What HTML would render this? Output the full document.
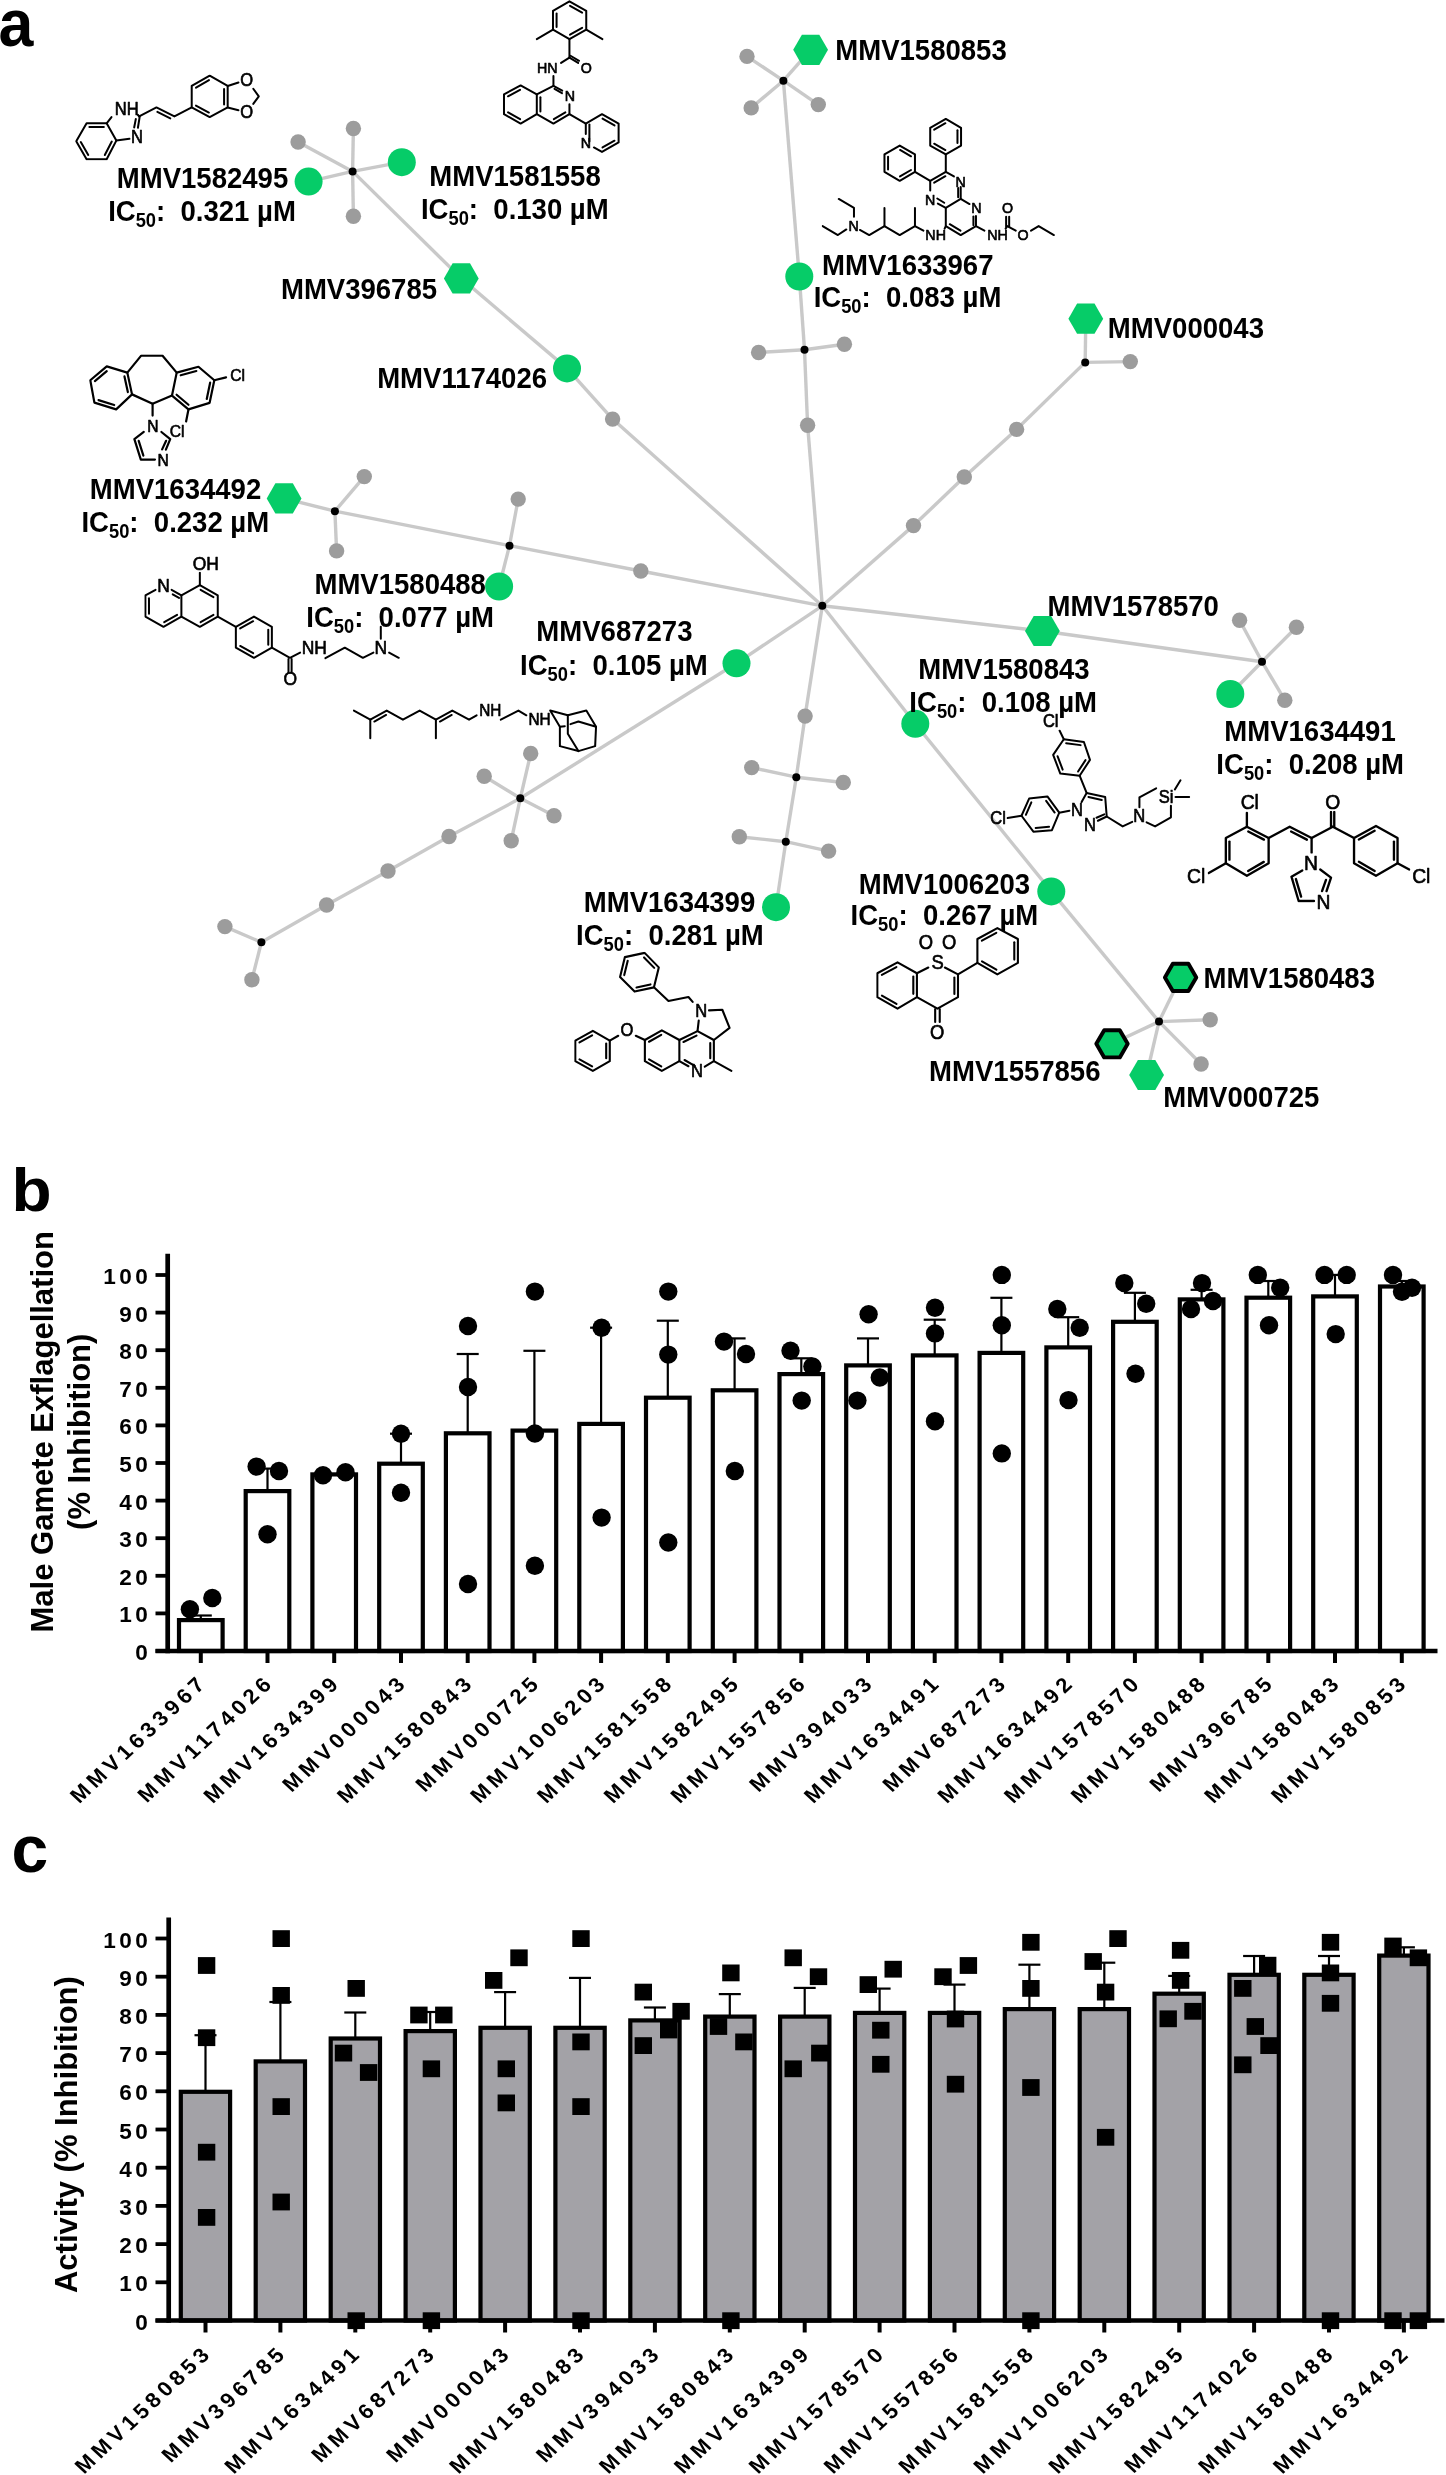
<!DOCTYPE html>
<html><head><meta charset="utf-8"><style>
html,body{margin:0;padding:0;background:#fff;overflow:hidden;width:1446px;height:2475px;}
svg{display:block;}
text{font-family:"Liberation Sans", sans-serif;fill:#000;}
text{filter:grayscale(1);}
.chem text{filter:none;}
.chem{filter:grayscale(1);}
</style></head><body>
<svg width="1446" height="2475" viewBox="0 0 1446 2475">
<rect width="1446" height="2475" fill="#fff"/>
<text transform="translate(-1.5,45.8) scale(0.95,1)" font-size="66" font-weight="bold">a</text>
<text transform="translate(11.5,1210.5) scale(1.06,1)" font-size="62" font-weight="bold">b</text>
<text transform="translate(11.5,1871.8)" font-size="66" font-weight="bold">c</text>
<line x1="200.8" y1="1620.1" x2="200.8" y2="1615.5" stroke="#000" stroke-width="2.2"/>
<line x1="189.8" y1="1615.5" x2="211.8" y2="1615.5" stroke="#000" stroke-width="2.2"/>
<rect x="179.0" y="1620.1" width="43.6" height="30.9" fill="#fff" stroke="#000" stroke-width="4.2"/>
<line x1="267.5" y1="1491.1" x2="267.5" y2="1468.6" stroke="#000" stroke-width="2.2"/>
<line x1="256.5" y1="1468.6" x2="278.5" y2="1468.6" stroke="#000" stroke-width="2.2"/>
<rect x="245.7" y="1491.1" width="43.6" height="159.9" fill="#fff" stroke="#000" stroke-width="4.2"/>
<line x1="334.2" y1="1474.4" x2="334.2" y2="1475.8" stroke="#000" stroke-width="2.2"/>
<line x1="323.2" y1="1475.8" x2="345.2" y2="1475.8" stroke="#000" stroke-width="2.2"/>
<rect x="312.4" y="1474.4" width="43.6" height="176.6" fill="#fff" stroke="#000" stroke-width="4.2"/>
<line x1="401.0" y1="1463.7" x2="401.0" y2="1433.7" stroke="#000" stroke-width="2.2"/>
<line x1="390.0" y1="1433.7" x2="412.0" y2="1433.7" stroke="#000" stroke-width="2.2"/>
<rect x="379.2" y="1463.7" width="43.6" height="187.3" fill="#fff" stroke="#000" stroke-width="4.2"/>
<line x1="467.7" y1="1433.3" x2="467.7" y2="1354.0" stroke="#000" stroke-width="2.2"/>
<line x1="456.7" y1="1354.0" x2="478.7" y2="1354.0" stroke="#000" stroke-width="2.2"/>
<rect x="445.9" y="1433.3" width="43.6" height="217.7" fill="#fff" stroke="#000" stroke-width="4.2"/>
<line x1="534.4" y1="1430.6" x2="534.4" y2="1350.8" stroke="#000" stroke-width="2.2"/>
<line x1="523.4" y1="1350.8" x2="545.4" y2="1350.8" stroke="#000" stroke-width="2.2"/>
<rect x="512.6" y="1430.6" width="43.6" height="220.4" fill="#fff" stroke="#000" stroke-width="4.2"/>
<line x1="601.1" y1="1423.9" x2="601.1" y2="1327.7" stroke="#000" stroke-width="2.2"/>
<line x1="590.1" y1="1327.7" x2="612.1" y2="1327.7" stroke="#000" stroke-width="2.2"/>
<rect x="579.3" y="1423.9" width="43.6" height="227.1" fill="#fff" stroke="#000" stroke-width="4.2"/>
<line x1="667.8" y1="1397.7" x2="667.8" y2="1320.7" stroke="#000" stroke-width="2.2"/>
<line x1="656.8" y1="1320.7" x2="678.8" y2="1320.7" stroke="#000" stroke-width="2.2"/>
<rect x="646.0" y="1397.7" width="43.6" height="253.3" fill="#fff" stroke="#000" stroke-width="4.2"/>
<line x1="734.6" y1="1390.3" x2="734.6" y2="1338.4" stroke="#000" stroke-width="2.2"/>
<line x1="723.6" y1="1338.4" x2="745.6" y2="1338.4" stroke="#000" stroke-width="2.2"/>
<rect x="712.8" y="1390.3" width="43.6" height="260.7" fill="#fff" stroke="#000" stroke-width="4.2"/>
<line x1="801.3" y1="1374.1" x2="801.3" y2="1358.3" stroke="#000" stroke-width="2.2"/>
<line x1="790.3" y1="1358.3" x2="812.3" y2="1358.3" stroke="#000" stroke-width="2.2"/>
<rect x="779.5" y="1374.1" width="43.6" height="276.9" fill="#fff" stroke="#000" stroke-width="4.2"/>
<line x1="868.0" y1="1365.4" x2="868.0" y2="1338.4" stroke="#000" stroke-width="2.2"/>
<line x1="857.0" y1="1338.4" x2="879.0" y2="1338.4" stroke="#000" stroke-width="2.2"/>
<rect x="846.2" y="1365.4" width="43.6" height="285.6" fill="#fff" stroke="#000" stroke-width="4.2"/>
<line x1="934.7" y1="1355.4" x2="934.7" y2="1319.7" stroke="#000" stroke-width="2.2"/>
<line x1="923.7" y1="1319.7" x2="945.7" y2="1319.7" stroke="#000" stroke-width="2.2"/>
<rect x="912.9" y="1355.4" width="43.6" height="295.6" fill="#fff" stroke="#000" stroke-width="4.2"/>
<line x1="1001.4" y1="1352.9" x2="1001.4" y2="1297.8" stroke="#000" stroke-width="2.2"/>
<line x1="990.4" y1="1297.8" x2="1012.4" y2="1297.8" stroke="#000" stroke-width="2.2"/>
<rect x="979.6" y="1352.9" width="43.6" height="298.1" fill="#fff" stroke="#000" stroke-width="4.2"/>
<line x1="1068.2" y1="1347.4" x2="1068.2" y2="1317.2" stroke="#000" stroke-width="2.2"/>
<line x1="1057.2" y1="1317.2" x2="1079.2" y2="1317.2" stroke="#000" stroke-width="2.2"/>
<rect x="1046.4" y="1347.4" width="43.6" height="303.6" fill="#fff" stroke="#000" stroke-width="4.2"/>
<line x1="1134.9" y1="1321.8" x2="1134.9" y2="1292.8" stroke="#000" stroke-width="2.2"/>
<line x1="1123.9" y1="1292.8" x2="1145.9" y2="1292.8" stroke="#000" stroke-width="2.2"/>
<rect x="1113.1" y="1321.8" width="43.6" height="329.2" fill="#fff" stroke="#000" stroke-width="4.2"/>
<line x1="1201.6" y1="1299.4" x2="1201.6" y2="1289.8" stroke="#000" stroke-width="2.2"/>
<line x1="1190.6" y1="1289.8" x2="1212.6" y2="1289.8" stroke="#000" stroke-width="2.2"/>
<rect x="1179.8" y="1299.4" width="43.6" height="351.6" fill="#fff" stroke="#000" stroke-width="4.2"/>
<line x1="1268.3" y1="1297.7" x2="1268.3" y2="1281.0" stroke="#000" stroke-width="2.2"/>
<line x1="1257.3" y1="1281.0" x2="1279.3" y2="1281.0" stroke="#000" stroke-width="2.2"/>
<rect x="1246.5" y="1297.7" width="43.6" height="353.3" fill="#fff" stroke="#000" stroke-width="4.2"/>
<line x1="1335.0" y1="1296.4" x2="1335.0" y2="1274.9" stroke="#000" stroke-width="2.2"/>
<line x1="1324.0" y1="1274.9" x2="1346.0" y2="1274.9" stroke="#000" stroke-width="2.2"/>
<rect x="1313.2" y="1296.4" width="43.6" height="354.6" fill="#fff" stroke="#000" stroke-width="4.2"/>
<line x1="1401.8" y1="1286.5" x2="1401.8" y2="1281.0" stroke="#000" stroke-width="2.2"/>
<line x1="1390.8" y1="1281.0" x2="1412.8" y2="1281.0" stroke="#000" stroke-width="2.2"/>
<rect x="1380.0" y="1286.5" width="43.6" height="364.5" fill="#fff" stroke="#000" stroke-width="4.2"/>
<circle cx="189.9" cy="1609.3" r="9.2" fill="#000"/>
<circle cx="212.3" cy="1598.0" r="9.2" fill="#000"/>
<circle cx="256.6" cy="1466.6" r="9.2" fill="#000"/>
<circle cx="279.0" cy="1471.0" r="9.2" fill="#000"/>
<circle cx="267.5" cy="1534.3" r="9.2" fill="#000"/>
<circle cx="323.0" cy="1475.3" r="9.2" fill="#000"/>
<circle cx="345.5" cy="1472.3" r="9.2" fill="#000"/>
<circle cx="401.0" cy="1433.7" r="9.2" fill="#000"/>
<circle cx="401.0" cy="1492.7" r="9.2" fill="#000"/>
<circle cx="468.0" cy="1326.0" r="9.2" fill="#000"/>
<circle cx="468.0" cy="1387.0" r="9.2" fill="#000"/>
<circle cx="468.0" cy="1584.0" r="9.2" fill="#000"/>
<circle cx="534.9" cy="1291.6" r="9.2" fill="#000"/>
<circle cx="534.9" cy="1433.5" r="9.2" fill="#000"/>
<circle cx="534.9" cy="1565.7" r="9.2" fill="#000"/>
<circle cx="601.6" cy="1327.7" r="9.2" fill="#000"/>
<circle cx="601.6" cy="1517.6" r="9.2" fill="#000"/>
<circle cx="668.3" cy="1291.6" r="9.2" fill="#000"/>
<circle cx="668.3" cy="1354.6" r="9.2" fill="#000"/>
<circle cx="668.3" cy="1542.5" r="9.2" fill="#000"/>
<circle cx="724.0" cy="1341.6" r="9.2" fill="#000"/>
<circle cx="746.0" cy="1354.0" r="9.2" fill="#000"/>
<circle cx="734.8" cy="1471.0" r="9.2" fill="#000"/>
<circle cx="790.5" cy="1350.8" r="9.2" fill="#000"/>
<circle cx="812.4" cy="1366.5" r="9.2" fill="#000"/>
<circle cx="801.7" cy="1400.6" r="9.2" fill="#000"/>
<circle cx="868.6" cy="1314.2" r="9.2" fill="#000"/>
<circle cx="879.8" cy="1377.5" r="9.2" fill="#000"/>
<circle cx="857.4" cy="1400.6" r="9.2" fill="#000"/>
<circle cx="935.0" cy="1307.8" r="9.2" fill="#000"/>
<circle cx="935.0" cy="1333.4" r="9.2" fill="#000"/>
<circle cx="935.0" cy="1421.3" r="9.2" fill="#000"/>
<circle cx="1001.8" cy="1274.9" r="9.2" fill="#000"/>
<circle cx="1001.8" cy="1325.2" r="9.2" fill="#000"/>
<circle cx="1001.8" cy="1453.4" r="9.2" fill="#000"/>
<circle cx="1057.3" cy="1309.0" r="9.2" fill="#000"/>
<circle cx="1079.7" cy="1327.7" r="9.2" fill="#000"/>
<circle cx="1068.5" cy="1400.1" r="9.2" fill="#000"/>
<circle cx="1124.3" cy="1283.1" r="9.2" fill="#000"/>
<circle cx="1146.2" cy="1303.8" r="9.2" fill="#000"/>
<circle cx="1135.5" cy="1373.7" r="9.2" fill="#000"/>
<circle cx="1202.0" cy="1283.1" r="9.2" fill="#000"/>
<circle cx="1191.0" cy="1309.0" r="9.2" fill="#000"/>
<circle cx="1213.0" cy="1301.0" r="9.2" fill="#000"/>
<circle cx="1257.8" cy="1274.9" r="9.2" fill="#000"/>
<circle cx="1280.2" cy="1287.8" r="9.2" fill="#000"/>
<circle cx="1269.0" cy="1325.2" r="9.2" fill="#000"/>
<circle cx="1324.5" cy="1274.9" r="9.2" fill="#000"/>
<circle cx="1346.7" cy="1274.9" r="9.2" fill="#000"/>
<circle cx="1335.7" cy="1334.1" r="9.2" fill="#000"/>
<circle cx="1393.0" cy="1274.9" r="9.2" fill="#000"/>
<circle cx="1412.0" cy="1287.8" r="9.2" fill="#000"/>
<circle cx="1402.0" cy="1291.8" r="9.2" fill="#000"/>
<line x1="167.7" y1="1253.7" x2="167.7" y2="1653.3" stroke="#000" stroke-width="4.7"/>
<line x1="155.5" y1="1651.0" x2="1437.5" y2="1651.0" stroke="#000" stroke-width="4.5"/>
<line x1="155.5" y1="1651.0" x2="167.7" y2="1651.0" stroke="#000" stroke-width="3.8"/>
<text transform="translate(151.3,1660.0) scale(1.05,1)" font-size="21.5" font-weight="bold" letter-spacing="3.3" text-anchor="end">0</text>
<line x1="155.5" y1="1613.4" x2="167.7" y2="1613.4" stroke="#000" stroke-width="3.8"/>
<text transform="translate(151.3,1622.4) scale(1.05,1)" font-size="21.5" font-weight="bold" letter-spacing="3.3" text-anchor="end">10</text>
<line x1="155.5" y1="1575.8" x2="167.7" y2="1575.8" stroke="#000" stroke-width="3.8"/>
<text transform="translate(151.3,1584.8) scale(1.05,1)" font-size="21.5" font-weight="bold" letter-spacing="3.3" text-anchor="end">20</text>
<line x1="155.5" y1="1538.2" x2="167.7" y2="1538.2" stroke="#000" stroke-width="3.8"/>
<text transform="translate(151.3,1547.2) scale(1.05,1)" font-size="21.5" font-weight="bold" letter-spacing="3.3" text-anchor="end">30</text>
<line x1="155.5" y1="1500.6" x2="167.7" y2="1500.6" stroke="#000" stroke-width="3.8"/>
<text transform="translate(151.3,1509.6) scale(1.05,1)" font-size="21.5" font-weight="bold" letter-spacing="3.3" text-anchor="end">40</text>
<line x1="155.5" y1="1463.0" x2="167.7" y2="1463.0" stroke="#000" stroke-width="3.8"/>
<text transform="translate(151.3,1472.0) scale(1.05,1)" font-size="21.5" font-weight="bold" letter-spacing="3.3" text-anchor="end">50</text>
<line x1="155.5" y1="1425.4" x2="167.7" y2="1425.4" stroke="#000" stroke-width="3.8"/>
<text transform="translate(151.3,1434.4) scale(1.05,1)" font-size="21.5" font-weight="bold" letter-spacing="3.3" text-anchor="end">60</text>
<line x1="155.5" y1="1387.8" x2="167.7" y2="1387.8" stroke="#000" stroke-width="3.8"/>
<text transform="translate(151.3,1396.8) scale(1.05,1)" font-size="21.5" font-weight="bold" letter-spacing="3.3" text-anchor="end">70</text>
<line x1="155.5" y1="1350.2" x2="167.7" y2="1350.2" stroke="#000" stroke-width="3.8"/>
<text transform="translate(151.3,1359.2) scale(1.05,1)" font-size="21.5" font-weight="bold" letter-spacing="3.3" text-anchor="end">80</text>
<line x1="155.5" y1="1312.6" x2="167.7" y2="1312.6" stroke="#000" stroke-width="3.8"/>
<text transform="translate(151.3,1321.6) scale(1.05,1)" font-size="21.5" font-weight="bold" letter-spacing="3.3" text-anchor="end">90</text>
<line x1="155.5" y1="1275.0" x2="167.7" y2="1275.0" stroke="#000" stroke-width="3.8"/>
<text transform="translate(151.3,1284.0) scale(1.05,1)" font-size="21.5" font-weight="bold" letter-spacing="3.3" text-anchor="end">100</text>
<line x1="200.8" y1="1651.0" x2="200.8" y2="1663.0" stroke="#000" stroke-width="4"/>
<line x1="267.5" y1="1651.0" x2="267.5" y2="1663.0" stroke="#000" stroke-width="4"/>
<line x1="334.2" y1="1651.0" x2="334.2" y2="1663.0" stroke="#000" stroke-width="4"/>
<line x1="401.0" y1="1651.0" x2="401.0" y2="1663.0" stroke="#000" stroke-width="4"/>
<line x1="467.7" y1="1651.0" x2="467.7" y2="1663.0" stroke="#000" stroke-width="4"/>
<line x1="534.4" y1="1651.0" x2="534.4" y2="1663.0" stroke="#000" stroke-width="4"/>
<line x1="601.1" y1="1651.0" x2="601.1" y2="1663.0" stroke="#000" stroke-width="4"/>
<line x1="667.8" y1="1651.0" x2="667.8" y2="1663.0" stroke="#000" stroke-width="4"/>
<line x1="734.6" y1="1651.0" x2="734.6" y2="1663.0" stroke="#000" stroke-width="4"/>
<line x1="801.3" y1="1651.0" x2="801.3" y2="1663.0" stroke="#000" stroke-width="4"/>
<line x1="868.0" y1="1651.0" x2="868.0" y2="1663.0" stroke="#000" stroke-width="4"/>
<line x1="934.7" y1="1651.0" x2="934.7" y2="1663.0" stroke="#000" stroke-width="4"/>
<line x1="1001.4" y1="1651.0" x2="1001.4" y2="1663.0" stroke="#000" stroke-width="4"/>
<line x1="1068.2" y1="1651.0" x2="1068.2" y2="1663.0" stroke="#000" stroke-width="4"/>
<line x1="1134.9" y1="1651.0" x2="1134.9" y2="1663.0" stroke="#000" stroke-width="4"/>
<line x1="1201.6" y1="1651.0" x2="1201.6" y2="1663.0" stroke="#000" stroke-width="4"/>
<line x1="1268.3" y1="1651.0" x2="1268.3" y2="1663.0" stroke="#000" stroke-width="4"/>
<line x1="1335.0" y1="1651.0" x2="1335.0" y2="1663.0" stroke="#000" stroke-width="4"/>
<line x1="1401.8" y1="1651.0" x2="1401.8" y2="1663.0" stroke="#000" stroke-width="4"/>
<text transform="translate(209.0,1683.0) scale(1.07,1) rotate(-45)" font-size="20.8" font-weight="bold" letter-spacing="4.2" text-anchor="end">MMV1633967</text>
<text transform="translate(275.7,1683.0) scale(1.07,1) rotate(-45)" font-size="20.8" font-weight="bold" letter-spacing="4.2" text-anchor="end">MMV1174026</text>
<text transform="translate(342.4,1683.0) scale(1.07,1) rotate(-45)" font-size="20.8" font-weight="bold" letter-spacing="4.2" text-anchor="end">MMV1634399</text>
<text transform="translate(409.2,1683.0) scale(1.07,1) rotate(-45)" font-size="20.8" font-weight="bold" letter-spacing="4.2" text-anchor="end">MMV000043</text>
<text transform="translate(475.9,1683.0) scale(1.07,1) rotate(-45)" font-size="20.8" font-weight="bold" letter-spacing="4.2" text-anchor="end">MMV1580843</text>
<text transform="translate(542.6,1683.0) scale(1.07,1) rotate(-45)" font-size="20.8" font-weight="bold" letter-spacing="4.2" text-anchor="end">MMV000725</text>
<text transform="translate(609.3,1683.0) scale(1.07,1) rotate(-45)" font-size="20.8" font-weight="bold" letter-spacing="4.2" text-anchor="end">MMV1006203</text>
<text transform="translate(676.0,1683.0) scale(1.07,1) rotate(-45)" font-size="20.8" font-weight="bold" letter-spacing="4.2" text-anchor="end">MMV1581558</text>
<text transform="translate(742.8,1683.0) scale(1.07,1) rotate(-45)" font-size="20.8" font-weight="bold" letter-spacing="4.2" text-anchor="end">MMV1582495</text>
<text transform="translate(809.5,1683.0) scale(1.07,1) rotate(-45)" font-size="20.8" font-weight="bold" letter-spacing="4.2" text-anchor="end">MMV1557856</text>
<text transform="translate(876.2,1683.0) scale(1.07,1) rotate(-45)" font-size="20.8" font-weight="bold" letter-spacing="4.2" text-anchor="end">MMV394033</text>
<text transform="translate(942.9,1683.0) scale(1.07,1) rotate(-45)" font-size="20.8" font-weight="bold" letter-spacing="4.2" text-anchor="end">MMV1634491</text>
<text transform="translate(1009.6,1683.0) scale(1.07,1) rotate(-45)" font-size="20.8" font-weight="bold" letter-spacing="4.2" text-anchor="end">MMV687273</text>
<text transform="translate(1076.4,1683.0) scale(1.07,1) rotate(-45)" font-size="20.8" font-weight="bold" letter-spacing="4.2" text-anchor="end">MMV1634492</text>
<text transform="translate(1143.1,1683.0) scale(1.07,1) rotate(-45)" font-size="20.8" font-weight="bold" letter-spacing="4.2" text-anchor="end">MMV1578570</text>
<text transform="translate(1209.8,1683.0) scale(1.07,1) rotate(-45)" font-size="20.8" font-weight="bold" letter-spacing="4.2" text-anchor="end">MMV1580488</text>
<text transform="translate(1276.5,1683.0) scale(1.07,1) rotate(-45)" font-size="20.8" font-weight="bold" letter-spacing="4.2" text-anchor="end">MMV396785</text>
<text transform="translate(1343.2,1683.0) scale(1.07,1) rotate(-45)" font-size="20.8" font-weight="bold" letter-spacing="4.2" text-anchor="end">MMV1580483</text>
<text transform="translate(1410.0,1683.0) scale(1.07,1) rotate(-45)" font-size="20.8" font-weight="bold" letter-spacing="4.2" text-anchor="end">MMV1580853</text>
<text transform="translate(53.0,1431.8) rotate(-90)" font-size="31" font-weight="bold" text-anchor="middle">Male Gamete Exflagellation</text>
<text transform="translate(90.0,1431.8) rotate(-90)" font-size="31" font-weight="bold" text-anchor="middle">(% Inhibition)</text>
<line x1="205.5" y1="2091.8" x2="205.5" y2="2035.2" stroke="#000" stroke-width="2.2"/>
<line x1="194.5" y1="2035.2" x2="216.5" y2="2035.2" stroke="#000" stroke-width="2.2"/>
<rect x="180.8" y="2091.8" width="49.3" height="228.7" fill="#a3a2a7" stroke="#000" stroke-width="4.2"/>
<line x1="280.4" y1="2061.4" x2="280.4" y2="2002.0" stroke="#000" stroke-width="2.2"/>
<line x1="269.4" y1="2002.0" x2="291.4" y2="2002.0" stroke="#000" stroke-width="2.2"/>
<rect x="255.7" y="2061.4" width="49.3" height="259.1" fill="#a3a2a7" stroke="#000" stroke-width="4.2"/>
<line x1="355.3" y1="2038.5" x2="355.3" y2="2012.5" stroke="#000" stroke-width="2.2"/>
<line x1="344.3" y1="2012.5" x2="366.3" y2="2012.5" stroke="#000" stroke-width="2.2"/>
<rect x="330.7" y="2038.5" width="49.3" height="282.0" fill="#a3a2a7" stroke="#000" stroke-width="4.2"/>
<line x1="430.2" y1="2031.1" x2="430.2" y2="2012.0" stroke="#000" stroke-width="2.2"/>
<line x1="419.2" y1="2012.0" x2="441.2" y2="2012.0" stroke="#000" stroke-width="2.2"/>
<rect x="405.6" y="2031.1" width="49.3" height="289.4" fill="#a3a2a7" stroke="#000" stroke-width="4.2"/>
<line x1="505.1" y1="2027.8" x2="505.1" y2="1992.1" stroke="#000" stroke-width="2.2"/>
<line x1="494.1" y1="1992.1" x2="516.1" y2="1992.1" stroke="#000" stroke-width="2.2"/>
<rect x="480.5" y="2027.8" width="49.3" height="292.7" fill="#a3a2a7" stroke="#000" stroke-width="4.2"/>
<line x1="580.0" y1="2027.8" x2="580.0" y2="1977.9" stroke="#000" stroke-width="2.2"/>
<line x1="569.0" y1="1977.9" x2="591.0" y2="1977.9" stroke="#000" stroke-width="2.2"/>
<rect x="555.4" y="2027.8" width="49.3" height="292.7" fill="#a3a2a7" stroke="#000" stroke-width="4.2"/>
<line x1="654.9" y1="2020.4" x2="654.9" y2="2007.5" stroke="#000" stroke-width="2.2"/>
<line x1="643.9" y1="2007.5" x2="665.9" y2="2007.5" stroke="#000" stroke-width="2.2"/>
<rect x="630.3" y="2020.4" width="49.3" height="300.1" fill="#a3a2a7" stroke="#000" stroke-width="4.2"/>
<line x1="729.8" y1="2016.6" x2="729.8" y2="1994.1" stroke="#000" stroke-width="2.2"/>
<line x1="718.8" y1="1994.1" x2="740.8" y2="1994.1" stroke="#000" stroke-width="2.2"/>
<rect x="705.2" y="2016.6" width="49.3" height="303.9" fill="#a3a2a7" stroke="#000" stroke-width="4.2"/>
<line x1="804.7" y1="2016.6" x2="804.7" y2="1987.9" stroke="#000" stroke-width="2.2"/>
<line x1="793.7" y1="1987.9" x2="815.7" y2="1987.9" stroke="#000" stroke-width="2.2"/>
<rect x="780.1" y="2016.6" width="49.3" height="303.9" fill="#a3a2a7" stroke="#000" stroke-width="4.2"/>
<line x1="879.6" y1="2012.9" x2="879.6" y2="1988.6" stroke="#000" stroke-width="2.2"/>
<line x1="868.6" y1="1988.6" x2="890.6" y2="1988.6" stroke="#000" stroke-width="2.2"/>
<rect x="855.0" y="2012.9" width="49.3" height="307.6" fill="#a3a2a7" stroke="#000" stroke-width="4.2"/>
<line x1="954.5" y1="2012.9" x2="954.5" y2="1984.6" stroke="#000" stroke-width="2.2"/>
<line x1="943.5" y1="1984.6" x2="965.5" y2="1984.6" stroke="#000" stroke-width="2.2"/>
<rect x="929.9" y="2012.9" width="49.3" height="307.6" fill="#a3a2a7" stroke="#000" stroke-width="4.2"/>
<line x1="1029.4" y1="2009.1" x2="1029.4" y2="1964.7" stroke="#000" stroke-width="2.2"/>
<line x1="1018.4" y1="1964.7" x2="1040.4" y2="1964.7" stroke="#000" stroke-width="2.2"/>
<rect x="1004.8" y="2009.1" width="49.3" height="311.4" fill="#a3a2a7" stroke="#000" stroke-width="4.2"/>
<line x1="1104.3" y1="2009.1" x2="1104.3" y2="1962.7" stroke="#000" stroke-width="2.2"/>
<line x1="1093.3" y1="1962.7" x2="1115.3" y2="1962.7" stroke="#000" stroke-width="2.2"/>
<rect x="1079.7" y="2009.1" width="49.3" height="311.4" fill="#a3a2a7" stroke="#000" stroke-width="4.2"/>
<line x1="1179.2" y1="1993.7" x2="1179.2" y2="1975.9" stroke="#000" stroke-width="2.2"/>
<line x1="1168.2" y1="1975.9" x2="1190.2" y2="1975.9" stroke="#000" stroke-width="2.2"/>
<rect x="1154.5" y="1993.7" width="49.3" height="326.8" fill="#a3a2a7" stroke="#000" stroke-width="4.2"/>
<line x1="1254.1" y1="1974.8" x2="1254.1" y2="1956.0" stroke="#000" stroke-width="2.2"/>
<line x1="1243.1" y1="1956.0" x2="1265.1" y2="1956.0" stroke="#000" stroke-width="2.2"/>
<rect x="1229.5" y="1974.8" width="49.3" height="345.7" fill="#a3a2a7" stroke="#000" stroke-width="4.2"/>
<line x1="1329.0" y1="1974.8" x2="1329.0" y2="1956.0" stroke="#000" stroke-width="2.2"/>
<line x1="1318.0" y1="1956.0" x2="1340.0" y2="1956.0" stroke="#000" stroke-width="2.2"/>
<rect x="1304.3" y="1974.8" width="49.3" height="345.7" fill="#a3a2a7" stroke="#000" stroke-width="4.2"/>
<line x1="1403.9" y1="1955.6" x2="1403.9" y2="1947.3" stroke="#000" stroke-width="2.2"/>
<line x1="1392.9" y1="1947.3" x2="1414.9" y2="1947.3" stroke="#000" stroke-width="2.2"/>
<rect x="1379.2" y="1955.6" width="49.3" height="364.9" fill="#a3a2a7" stroke="#000" stroke-width="4.2"/>
<rect x="197.9" y="1957.1" width="17.4" height="16.8" fill="#000"/>
<rect x="197.9" y="2029.3" width="17.4" height="16.8" fill="#000"/>
<rect x="197.9" y="2143.8" width="17.4" height="16.8" fill="#000"/>
<rect x="197.9" y="2209.0" width="17.4" height="16.8" fill="#000"/>
<rect x="272.5" y="1930.2" width="17.4" height="16.8" fill="#000"/>
<rect x="272.5" y="1987.0" width="17.4" height="16.8" fill="#000"/>
<rect x="272.5" y="2098.2" width="17.4" height="16.8" fill="#000"/>
<rect x="272.5" y="2193.6" width="17.4" height="16.8" fill="#000"/>
<rect x="347.5" y="1980.0" width="17.4" height="16.8" fill="#000"/>
<rect x="334.8" y="2044.7" width="17.4" height="16.8" fill="#000"/>
<rect x="359.9" y="2064.1" width="17.4" height="16.8" fill="#000"/>
<rect x="347.5" y="2312.3" width="17.4" height="16.8" fill="#000"/>
<rect x="410.2" y="2006.6" width="17.4" height="16.8" fill="#000"/>
<rect x="435.1" y="2006.6" width="17.4" height="16.8" fill="#000"/>
<rect x="422.7" y="2060.4" width="17.4" height="16.8" fill="#000"/>
<rect x="422.7" y="2312.3" width="17.4" height="16.8" fill="#000"/>
<rect x="485.0" y="1972.0" width="17.4" height="16.8" fill="#000"/>
<rect x="510.3" y="1949.4" width="17.4" height="16.8" fill="#000"/>
<rect x="497.6" y="2060.4" width="17.4" height="16.8" fill="#000"/>
<rect x="497.6" y="2094.5" width="17.4" height="16.8" fill="#000"/>
<rect x="572.3" y="1930.2" width="17.4" height="16.8" fill="#000"/>
<rect x="572.3" y="2033.5" width="17.4" height="16.8" fill="#000"/>
<rect x="572.3" y="2098.2" width="17.4" height="16.8" fill="#000"/>
<rect x="572.3" y="2312.3" width="17.4" height="16.8" fill="#000"/>
<rect x="634.6" y="1983.7" width="17.4" height="16.8" fill="#000"/>
<rect x="672.4" y="2002.9" width="17.4" height="16.8" fill="#000"/>
<rect x="660.0" y="2021.6" width="17.4" height="16.8" fill="#000"/>
<rect x="634.6" y="2037.2" width="17.4" height="16.8" fill="#000"/>
<rect x="722.2" y="1964.5" width="17.4" height="16.8" fill="#000"/>
<rect x="709.8" y="2018.1" width="17.4" height="16.8" fill="#000"/>
<rect x="735.2" y="2033.5" width="17.4" height="16.8" fill="#000"/>
<rect x="722.2" y="2312.3" width="17.4" height="16.8" fill="#000"/>
<rect x="784.5" y="1949.4" width="17.4" height="16.8" fill="#000"/>
<rect x="809.8" y="1968.3" width="17.4" height="16.8" fill="#000"/>
<rect x="811.1" y="2044.7" width="17.4" height="16.8" fill="#000"/>
<rect x="784.5" y="2060.4" width="17.4" height="16.8" fill="#000"/>
<rect x="859.6" y="1976.2" width="17.4" height="16.8" fill="#000"/>
<rect x="884.5" y="1960.8" width="17.4" height="16.8" fill="#000"/>
<rect x="872.1" y="2021.8" width="17.4" height="16.8" fill="#000"/>
<rect x="872.1" y="2055.9" width="17.4" height="16.8" fill="#000"/>
<rect x="934.3" y="1968.3" width="17.4" height="16.8" fill="#000"/>
<rect x="959.7" y="1957.1" width="17.4" height="16.8" fill="#000"/>
<rect x="946.8" y="2010.6" width="17.4" height="16.8" fill="#000"/>
<rect x="946.8" y="2075.8" width="17.4" height="16.8" fill="#000"/>
<rect x="1022.2" y="1933.9" width="17.4" height="16.8" fill="#000"/>
<rect x="1022.2" y="1980.0" width="17.4" height="16.8" fill="#000"/>
<rect x="1022.2" y="2079.1" width="17.4" height="16.8" fill="#000"/>
<rect x="1022.2" y="2312.3" width="17.4" height="16.8" fill="#000"/>
<rect x="1109.3" y="1930.2" width="17.4" height="16.8" fill="#000"/>
<rect x="1084.5" y="1953.1" width="17.4" height="16.8" fill="#000"/>
<rect x="1096.9" y="1983.7" width="17.4" height="16.8" fill="#000"/>
<rect x="1096.9" y="2128.9" width="17.4" height="16.8" fill="#000"/>
<rect x="1171.9" y="1941.9" width="17.4" height="16.8" fill="#000"/>
<rect x="1171.9" y="1972.0" width="17.4" height="16.8" fill="#000"/>
<rect x="1159.5" y="2010.4" width="17.4" height="16.8" fill="#000"/>
<rect x="1184.3" y="2002.9" width="17.4" height="16.8" fill="#000"/>
<rect x="1259.0" y="1956.8" width="17.4" height="16.8" fill="#000"/>
<rect x="1234.1" y="1980.0" width="17.4" height="16.8" fill="#000"/>
<rect x="1246.6" y="2018.1" width="17.4" height="16.8" fill="#000"/>
<rect x="1260.3" y="2037.2" width="17.4" height="16.8" fill="#000"/>
<rect x="1234.1" y="2056.4" width="17.4" height="16.8" fill="#000"/>
<rect x="1321.8" y="1933.9" width="17.4" height="16.8" fill="#000"/>
<rect x="1321.8" y="1964.5" width="17.4" height="16.8" fill="#000"/>
<rect x="1321.8" y="1994.9" width="17.4" height="16.8" fill="#000"/>
<rect x="1321.8" y="2312.3" width="17.4" height="16.8" fill="#000"/>
<rect x="1384.3" y="1937.6" width="17.4" height="16.8" fill="#000"/>
<rect x="1409.7" y="1949.4" width="17.4" height="16.8" fill="#000"/>
<rect x="1384.3" y="2312.3" width="17.4" height="16.8" fill="#000"/>
<rect x="1409.7" y="2312.3" width="17.4" height="16.8" fill="#000"/>
<line x1="168.7" y1="1917.4" x2="168.7" y2="2322.8" stroke="#000" stroke-width="4.7"/>
<line x1="155.5" y1="2320.5" x2="1444.5" y2="2320.5" stroke="#000" stroke-width="4.5"/>
<line x1="155.5" y1="2320.5" x2="168.7" y2="2320.5" stroke="#000" stroke-width="3.8"/>
<text transform="translate(151.3,2329.5) scale(1.05,1)" font-size="21.5" font-weight="bold" letter-spacing="3.3" text-anchor="end">0</text>
<line x1="155.5" y1="2282.3" x2="168.7" y2="2282.3" stroke="#000" stroke-width="3.8"/>
<text transform="translate(151.3,2291.3) scale(1.05,1)" font-size="21.5" font-weight="bold" letter-spacing="3.3" text-anchor="end">10</text>
<line x1="155.5" y1="2244.1" x2="168.7" y2="2244.1" stroke="#000" stroke-width="3.8"/>
<text transform="translate(151.3,2253.1) scale(1.05,1)" font-size="21.5" font-weight="bold" letter-spacing="3.3" text-anchor="end">20</text>
<line x1="155.5" y1="2205.9" x2="168.7" y2="2205.9" stroke="#000" stroke-width="3.8"/>
<text transform="translate(151.3,2214.9) scale(1.05,1)" font-size="21.5" font-weight="bold" letter-spacing="3.3" text-anchor="end">30</text>
<line x1="155.5" y1="2167.7" x2="168.7" y2="2167.7" stroke="#000" stroke-width="3.8"/>
<text transform="translate(151.3,2176.7) scale(1.05,1)" font-size="21.5" font-weight="bold" letter-spacing="3.3" text-anchor="end">40</text>
<line x1="155.5" y1="2129.5" x2="168.7" y2="2129.5" stroke="#000" stroke-width="3.8"/>
<text transform="translate(151.3,2138.5) scale(1.05,1)" font-size="21.5" font-weight="bold" letter-spacing="3.3" text-anchor="end">50</text>
<line x1="155.5" y1="2091.3" x2="168.7" y2="2091.3" stroke="#000" stroke-width="3.8"/>
<text transform="translate(151.3,2100.3) scale(1.05,1)" font-size="21.5" font-weight="bold" letter-spacing="3.3" text-anchor="end">60</text>
<line x1="155.5" y1="2053.1" x2="168.7" y2="2053.1" stroke="#000" stroke-width="3.8"/>
<text transform="translate(151.3,2062.1) scale(1.05,1)" font-size="21.5" font-weight="bold" letter-spacing="3.3" text-anchor="end">70</text>
<line x1="155.5" y1="2014.9" x2="168.7" y2="2014.9" stroke="#000" stroke-width="3.8"/>
<text transform="translate(151.3,2023.9) scale(1.05,1)" font-size="21.5" font-weight="bold" letter-spacing="3.3" text-anchor="end">80</text>
<line x1="155.5" y1="1976.7" x2="168.7" y2="1976.7" stroke="#000" stroke-width="3.8"/>
<text transform="translate(151.3,1985.7) scale(1.05,1)" font-size="21.5" font-weight="bold" letter-spacing="3.3" text-anchor="end">90</text>
<line x1="155.5" y1="1938.5" x2="168.7" y2="1938.5" stroke="#000" stroke-width="3.8"/>
<text transform="translate(151.3,1947.5) scale(1.05,1)" font-size="21.5" font-weight="bold" letter-spacing="3.3" text-anchor="end">100</text>
<line x1="205.5" y1="2320.5" x2="205.5" y2="2332.5" stroke="#000" stroke-width="4"/>
<line x1="280.4" y1="2320.5" x2="280.4" y2="2332.5" stroke="#000" stroke-width="4"/>
<line x1="355.3" y1="2320.5" x2="355.3" y2="2332.5" stroke="#000" stroke-width="4"/>
<line x1="430.2" y1="2320.5" x2="430.2" y2="2332.5" stroke="#000" stroke-width="4"/>
<line x1="505.1" y1="2320.5" x2="505.1" y2="2332.5" stroke="#000" stroke-width="4"/>
<line x1="580.0" y1="2320.5" x2="580.0" y2="2332.5" stroke="#000" stroke-width="4"/>
<line x1="654.9" y1="2320.5" x2="654.9" y2="2332.5" stroke="#000" stroke-width="4"/>
<line x1="729.8" y1="2320.5" x2="729.8" y2="2332.5" stroke="#000" stroke-width="4"/>
<line x1="804.7" y1="2320.5" x2="804.7" y2="2332.5" stroke="#000" stroke-width="4"/>
<line x1="879.6" y1="2320.5" x2="879.6" y2="2332.5" stroke="#000" stroke-width="4"/>
<line x1="954.5" y1="2320.5" x2="954.5" y2="2332.5" stroke="#000" stroke-width="4"/>
<line x1="1029.4" y1="2320.5" x2="1029.4" y2="2332.5" stroke="#000" stroke-width="4"/>
<line x1="1104.3" y1="2320.5" x2="1104.3" y2="2332.5" stroke="#000" stroke-width="4"/>
<line x1="1179.2" y1="2320.5" x2="1179.2" y2="2332.5" stroke="#000" stroke-width="4"/>
<line x1="1254.1" y1="2320.5" x2="1254.1" y2="2332.5" stroke="#000" stroke-width="4"/>
<line x1="1329.0" y1="2320.5" x2="1329.0" y2="2332.5" stroke="#000" stroke-width="4"/>
<line x1="1403.9" y1="2320.5" x2="1403.9" y2="2332.5" stroke="#000" stroke-width="4"/>
<text transform="translate(213.7,2353.5) scale(1.07,1) rotate(-45)" font-size="20.8" font-weight="bold" letter-spacing="4.2" text-anchor="end">MMV1580853</text>
<text transform="translate(288.6,2353.5) scale(1.07,1) rotate(-45)" font-size="20.8" font-weight="bold" letter-spacing="4.2" text-anchor="end">MMV396785</text>
<text transform="translate(363.5,2353.5) scale(1.07,1) rotate(-45)" font-size="20.8" font-weight="bold" letter-spacing="4.2" text-anchor="end">MMV1634491</text>
<text transform="translate(438.4,2353.5) scale(1.07,1) rotate(-45)" font-size="20.8" font-weight="bold" letter-spacing="4.2" text-anchor="end">MMV687273</text>
<text transform="translate(513.3,2353.5) scale(1.07,1) rotate(-45)" font-size="20.8" font-weight="bold" letter-spacing="4.2" text-anchor="end">MMV000043</text>
<text transform="translate(588.2,2353.5) scale(1.07,1) rotate(-45)" font-size="20.8" font-weight="bold" letter-spacing="4.2" text-anchor="end">MMV1580483</text>
<text transform="translate(663.1,2353.5) scale(1.07,1) rotate(-45)" font-size="20.8" font-weight="bold" letter-spacing="4.2" text-anchor="end">MMV394033</text>
<text transform="translate(738.0,2353.5) scale(1.07,1) rotate(-45)" font-size="20.8" font-weight="bold" letter-spacing="4.2" text-anchor="end">MMV1580843</text>
<text transform="translate(812.9,2353.5) scale(1.07,1) rotate(-45)" font-size="20.8" font-weight="bold" letter-spacing="4.2" text-anchor="end">MMV1634399</text>
<text transform="translate(887.8,2353.5) scale(1.07,1) rotate(-45)" font-size="20.8" font-weight="bold" letter-spacing="4.2" text-anchor="end">MMV1578570</text>
<text transform="translate(962.7,2353.5) scale(1.07,1) rotate(-45)" font-size="20.8" font-weight="bold" letter-spacing="4.2" text-anchor="end">MMV1557856</text>
<text transform="translate(1037.6,2353.5) scale(1.07,1) rotate(-45)" font-size="20.8" font-weight="bold" letter-spacing="4.2" text-anchor="end">MMV1581558</text>
<text transform="translate(1112.5,2353.5) scale(1.07,1) rotate(-45)" font-size="20.8" font-weight="bold" letter-spacing="4.2" text-anchor="end">MMV1006203</text>
<text transform="translate(1187.4,2353.5) scale(1.07,1) rotate(-45)" font-size="20.8" font-weight="bold" letter-spacing="4.2" text-anchor="end">MMV1582495</text>
<text transform="translate(1262.3,2353.5) scale(1.07,1) rotate(-45)" font-size="20.8" font-weight="bold" letter-spacing="4.2" text-anchor="end">MMV1174026</text>
<text transform="translate(1337.2,2353.5) scale(1.07,1) rotate(-45)" font-size="20.8" font-weight="bold" letter-spacing="4.2" text-anchor="end">MMV1580488</text>
<text transform="translate(1412.1,2353.5) scale(1.07,1) rotate(-45)" font-size="20.8" font-weight="bold" letter-spacing="4.2" text-anchor="end">MMV1634492</text>
<text transform="translate(76.6,2134.6) rotate(-90)" font-size="31" font-weight="bold" text-anchor="middle">Activity (% Inhibition)</text>
<line x1="822.3" y1="605.8" x2="612.6" y2="419.1" stroke="#c9c9c9" stroke-width="3.4"/>
<line x1="612.6" y1="419.1" x2="567.0" y2="368.4" stroke="#c9c9c9" stroke-width="3.4"/>
<line x1="567.0" y1="368.4" x2="461.3" y2="278.4" stroke="#c9c9c9" stroke-width="3.4"/>
<line x1="461.3" y1="278.4" x2="352.6" y2="171.4" stroke="#c9c9c9" stroke-width="3.4"/>
<line x1="352.6" y1="171.4" x2="298.1" y2="142.0" stroke="#c9c9c9" stroke-width="3.4"/>
<line x1="352.6" y1="171.4" x2="353.4" y2="128.5" stroke="#c9c9c9" stroke-width="3.4"/>
<line x1="352.6" y1="171.4" x2="353.4" y2="216.2" stroke="#c9c9c9" stroke-width="3.4"/>
<line x1="352.6" y1="171.4" x2="308.6" y2="181.6" stroke="#c9c9c9" stroke-width="3.4"/>
<line x1="352.6" y1="171.4" x2="401.8" y2="162.2" stroke="#c9c9c9" stroke-width="3.4"/>
<line x1="822.3" y1="605.8" x2="807.6" y2="425.2" stroke="#c9c9c9" stroke-width="3.4"/>
<line x1="807.6" y1="425.2" x2="804.5" y2="349.7" stroke="#c9c9c9" stroke-width="3.4"/>
<line x1="804.5" y1="349.7" x2="758.6" y2="352.5" stroke="#c9c9c9" stroke-width="3.4"/>
<line x1="804.5" y1="349.7" x2="844.4" y2="344.2" stroke="#c9c9c9" stroke-width="3.4"/>
<line x1="804.5" y1="349.7" x2="799.3" y2="276.5" stroke="#c9c9c9" stroke-width="3.4"/>
<line x1="799.3" y1="276.5" x2="783.4" y2="80.7" stroke="#c9c9c9" stroke-width="3.4"/>
<line x1="783.4" y1="80.7" x2="747.0" y2="56.4" stroke="#c9c9c9" stroke-width="3.4"/>
<line x1="783.4" y1="80.7" x2="751.2" y2="107.9" stroke="#c9c9c9" stroke-width="3.4"/>
<line x1="783.4" y1="80.7" x2="818.3" y2="104.6" stroke="#c9c9c9" stroke-width="3.4"/>
<line x1="783.4" y1="80.7" x2="810.6" y2="49.8" stroke="#c9c9c9" stroke-width="3.4"/>
<line x1="822.3" y1="605.8" x2="913.5" y2="525.6" stroke="#c9c9c9" stroke-width="3.4"/>
<line x1="913.5" y1="525.6" x2="964.3" y2="477.0" stroke="#c9c9c9" stroke-width="3.4"/>
<line x1="964.3" y1="477.0" x2="1016.6" y2="429.4" stroke="#c9c9c9" stroke-width="3.4"/>
<line x1="1016.6" y1="429.4" x2="1085.2" y2="362.4" stroke="#c9c9c9" stroke-width="3.4"/>
<line x1="1085.2" y1="362.4" x2="1130.3" y2="361.6" stroke="#c9c9c9" stroke-width="3.4"/>
<line x1="1085.2" y1="362.4" x2="1085.8" y2="318.7" stroke="#c9c9c9" stroke-width="3.4"/>
<line x1="822.3" y1="605.8" x2="1042.4" y2="631.0" stroke="#c9c9c9" stroke-width="3.4"/>
<line x1="1042.4" y1="631.0" x2="1262.0" y2="661.7" stroke="#c9c9c9" stroke-width="3.4"/>
<line x1="1262.0" y1="661.7" x2="1239.6" y2="620.2" stroke="#c9c9c9" stroke-width="3.4"/>
<line x1="1262.0" y1="661.7" x2="1296.4" y2="627.2" stroke="#c9c9c9" stroke-width="3.4"/>
<line x1="1262.0" y1="661.7" x2="1284.8" y2="700.2" stroke="#c9c9c9" stroke-width="3.4"/>
<line x1="1262.0" y1="661.7" x2="1230.3" y2="694.0" stroke="#c9c9c9" stroke-width="3.4"/>
<line x1="822.3" y1="605.8" x2="915.3" y2="723.8" stroke="#c9c9c9" stroke-width="3.4"/>
<line x1="915.3" y1="723.8" x2="1051.3" y2="891.4" stroke="#c9c9c9" stroke-width="3.4"/>
<line x1="1051.3" y1="891.4" x2="1159.0" y2="1021.6" stroke="#c9c9c9" stroke-width="3.4"/>
<line x1="1159.0" y1="1021.6" x2="1180.6" y2="977.4" stroke="#c9c9c9" stroke-width="3.4"/>
<line x1="1159.0" y1="1021.6" x2="1112.0" y2="1043.8" stroke="#c9c9c9" stroke-width="3.4"/>
<line x1="1159.0" y1="1021.6" x2="1146.6" y2="1075.0" stroke="#c9c9c9" stroke-width="3.4"/>
<line x1="1159.0" y1="1021.6" x2="1210.2" y2="1019.7" stroke="#c9c9c9" stroke-width="3.4"/>
<line x1="1159.0" y1="1021.6" x2="1201.1" y2="1064.0" stroke="#c9c9c9" stroke-width="3.4"/>
<line x1="822.3" y1="605.8" x2="805.1" y2="716.1" stroke="#c9c9c9" stroke-width="3.4"/>
<line x1="805.1" y1="716.1" x2="796.3" y2="777.2" stroke="#c9c9c9" stroke-width="3.4"/>
<line x1="796.3" y1="777.2" x2="751.7" y2="767.6" stroke="#c9c9c9" stroke-width="3.4"/>
<line x1="796.3" y1="777.2" x2="843.3" y2="782.5" stroke="#c9c9c9" stroke-width="3.4"/>
<line x1="796.3" y1="777.2" x2="785.8" y2="841.7" stroke="#c9c9c9" stroke-width="3.4"/>
<line x1="785.8" y1="841.7" x2="739.3" y2="836.7" stroke="#c9c9c9" stroke-width="3.4"/>
<line x1="785.8" y1="841.7" x2="828.6" y2="851.1" stroke="#c9c9c9" stroke-width="3.4"/>
<line x1="785.8" y1="841.7" x2="776.0" y2="907.2" stroke="#c9c9c9" stroke-width="3.4"/>
<line x1="822.3" y1="605.8" x2="736.5" y2="663.3" stroke="#c9c9c9" stroke-width="3.4"/>
<line x1="736.5" y1="663.3" x2="520.3" y2="798.3" stroke="#c9c9c9" stroke-width="3.4"/>
<line x1="520.3" y1="798.3" x2="530.7" y2="753.5" stroke="#c9c9c9" stroke-width="3.4"/>
<line x1="520.3" y1="798.3" x2="484.2" y2="776.3" stroke="#c9c9c9" stroke-width="3.4"/>
<line x1="520.3" y1="798.3" x2="554.0" y2="815.8" stroke="#c9c9c9" stroke-width="3.4"/>
<line x1="520.3" y1="798.3" x2="511.2" y2="840.7" stroke="#c9c9c9" stroke-width="3.4"/>
<line x1="520.3" y1="798.3" x2="449.0" y2="836.5" stroke="#c9c9c9" stroke-width="3.4"/>
<line x1="449.0" y1="836.5" x2="388.0" y2="871.0" stroke="#c9c9c9" stroke-width="3.4"/>
<line x1="388.0" y1="871.0" x2="326.6" y2="905.0" stroke="#c9c9c9" stroke-width="3.4"/>
<line x1="326.6" y1="905.0" x2="261.4" y2="942.3" stroke="#c9c9c9" stroke-width="3.4"/>
<line x1="261.4" y1="942.3" x2="224.9" y2="926.6" stroke="#c9c9c9" stroke-width="3.4"/>
<line x1="261.4" y1="942.3" x2="251.9" y2="979.7" stroke="#c9c9c9" stroke-width="3.4"/>
<line x1="822.3" y1="605.8" x2="640.8" y2="571.0" stroke="#c9c9c9" stroke-width="3.4"/>
<line x1="640.8" y1="571.0" x2="509.5" y2="545.7" stroke="#c9c9c9" stroke-width="3.4"/>
<line x1="509.5" y1="545.7" x2="518.2" y2="499.1" stroke="#c9c9c9" stroke-width="3.4"/>
<line x1="509.5" y1="545.7" x2="499.1" y2="586.5" stroke="#c9c9c9" stroke-width="3.4"/>
<line x1="509.5" y1="545.7" x2="334.9" y2="511.2" stroke="#c9c9c9" stroke-width="3.4"/>
<line x1="334.9" y1="511.2" x2="364.3" y2="476.6" stroke="#c9c9c9" stroke-width="3.4"/>
<line x1="334.9" y1="511.2" x2="336.6" y2="550.9" stroke="#c9c9c9" stroke-width="3.4"/>
<line x1="334.9" y1="511.2" x2="284.1" y2="498.4" stroke="#c9c9c9" stroke-width="3.4"/>
<circle cx="822.3" cy="605.8" r="4.0" fill="#000"/>
<circle cx="352.6" cy="171.4" r="4.0" fill="#000"/>
<circle cx="612.6" cy="419.1" r="7.7" fill="#9c9c9c"/>
<circle cx="567.0" cy="368.4" r="14" fill="#06cc68"/>
<polygon points="478.7,278.4 470.0,293.5 452.6,293.5 443.9,278.4 452.6,263.3 470.0,263.3" fill="#06cc68"/>
<circle cx="298.1" cy="142.0" r="7.7" fill="#9c9c9c"/>
<circle cx="353.4" cy="128.5" r="7.7" fill="#9c9c9c"/>
<circle cx="353.4" cy="216.2" r="7.7" fill="#9c9c9c"/>
<circle cx="308.6" cy="181.6" r="14" fill="#06cc68"/>
<circle cx="401.8" cy="162.2" r="14" fill="#06cc68"/>
<circle cx="807.6" cy="425.2" r="7.7" fill="#9c9c9c"/>
<circle cx="804.5" cy="349.7" r="4.0" fill="#000"/>
<circle cx="758.6" cy="352.5" r="7.7" fill="#9c9c9c"/>
<circle cx="844.4" cy="344.2" r="7.7" fill="#9c9c9c"/>
<circle cx="799.3" cy="276.5" r="14" fill="#06cc68"/>
<circle cx="783.4" cy="80.7" r="4.0" fill="#000"/>
<circle cx="747.0" cy="56.4" r="7.7" fill="#9c9c9c"/>
<circle cx="751.2" cy="107.9" r="7.7" fill="#9c9c9c"/>
<circle cx="818.3" cy="104.6" r="7.7" fill="#9c9c9c"/>
<polygon points="828.0,49.8 819.3,64.9 801.9,64.9 793.2,49.8 801.9,34.7 819.3,34.7" fill="#06cc68"/>
<circle cx="913.5" cy="525.6" r="7.7" fill="#9c9c9c"/>
<circle cx="964.3" cy="477.0" r="7.7" fill="#9c9c9c"/>
<circle cx="1016.6" cy="429.4" r="7.7" fill="#9c9c9c"/>
<circle cx="1085.2" cy="362.4" r="4.0" fill="#000"/>
<circle cx="1130.3" cy="361.6" r="7.7" fill="#9c9c9c"/>
<polygon points="1103.2,318.7 1094.5,333.8 1077.1,333.8 1068.4,318.7 1077.1,303.6 1094.5,303.6" fill="#06cc68"/>
<polygon points="1059.8,631.0 1051.1,646.1 1033.7,646.1 1025.0,631.0 1033.7,615.9 1051.1,615.9" fill="#06cc68"/>
<circle cx="1262.0" cy="661.7" r="4.0" fill="#000"/>
<circle cx="1239.6" cy="620.2" r="7.7" fill="#9c9c9c"/>
<circle cx="1296.4" cy="627.2" r="7.7" fill="#9c9c9c"/>
<circle cx="1284.8" cy="700.2" r="7.7" fill="#9c9c9c"/>
<circle cx="1230.3" cy="694.0" r="14" fill="#06cc68"/>
<circle cx="915.3" cy="723.8" r="14" fill="#06cc68"/>
<circle cx="1051.3" cy="891.4" r="14" fill="#06cc68"/>
<circle cx="1159.0" cy="1021.6" r="4.0" fill="#000"/>
<polygon points="1196.3,977.4 1188.4,991.0 1172.8,991.0 1164.9,977.4 1172.8,963.8 1188.4,963.8" fill="#06cc68" stroke="#000" stroke-width="3.9" stroke-linejoin="round"/>
<polygon points="1127.7,1043.8 1119.8,1057.4 1104.2,1057.4 1096.3,1043.8 1104.2,1030.2 1119.8,1030.2" fill="#06cc68" stroke="#000" stroke-width="3.9" stroke-linejoin="round"/>
<polygon points="1164.0,1075.0 1155.3,1090.1 1137.9,1090.1 1129.2,1075.0 1137.9,1059.9 1155.3,1059.9" fill="#06cc68"/>
<circle cx="1210.2" cy="1019.7" r="7.7" fill="#9c9c9c"/>
<circle cx="1201.1" cy="1064.0" r="7.7" fill="#9c9c9c"/>
<circle cx="805.1" cy="716.1" r="7.7" fill="#9c9c9c"/>
<circle cx="796.3" cy="777.2" r="4.0" fill="#000"/>
<circle cx="751.7" cy="767.6" r="7.7" fill="#9c9c9c"/>
<circle cx="843.3" cy="782.5" r="7.7" fill="#9c9c9c"/>
<circle cx="785.8" cy="841.7" r="4.0" fill="#000"/>
<circle cx="739.3" cy="836.7" r="7.7" fill="#9c9c9c"/>
<circle cx="828.6" cy="851.1" r="7.7" fill="#9c9c9c"/>
<circle cx="776.0" cy="907.2" r="14" fill="#06cc68"/>
<circle cx="736.5" cy="663.3" r="14" fill="#06cc68"/>
<circle cx="520.3" cy="798.3" r="4.0" fill="#000"/>
<circle cx="530.7" cy="753.5" r="7.7" fill="#9c9c9c"/>
<circle cx="484.2" cy="776.3" r="7.7" fill="#9c9c9c"/>
<circle cx="554.0" cy="815.8" r="7.7" fill="#9c9c9c"/>
<circle cx="511.2" cy="840.7" r="7.7" fill="#9c9c9c"/>
<circle cx="449.0" cy="836.5" r="7.7" fill="#9c9c9c"/>
<circle cx="388.0" cy="871.0" r="7.7" fill="#9c9c9c"/>
<circle cx="326.6" cy="905.0" r="7.7" fill="#9c9c9c"/>
<circle cx="261.4" cy="942.3" r="4.0" fill="#000"/>
<circle cx="224.9" cy="926.6" r="7.7" fill="#9c9c9c"/>
<circle cx="251.9" cy="979.7" r="7.7" fill="#9c9c9c"/>
<circle cx="640.8" cy="571.0" r="7.7" fill="#9c9c9c"/>
<circle cx="509.5" cy="545.7" r="4.0" fill="#000"/>
<circle cx="518.2" cy="499.1" r="7.7" fill="#9c9c9c"/>
<circle cx="499.1" cy="586.5" r="14" fill="#06cc68"/>
<circle cx="334.9" cy="511.2" r="4.0" fill="#000"/>
<circle cx="364.3" cy="476.6" r="7.7" fill="#9c9c9c"/>
<circle cx="336.6" cy="550.9" r="7.7" fill="#9c9c9c"/>
<polygon points="301.5,498.4 292.8,513.5 275.4,513.5 266.7,498.4 275.4,483.3 292.8,483.3" fill="#06cc68"/>
<text transform="translate(202.5,188.3) scale(0.94,1)" font-size="29.3" font-weight="bold" text-anchor="middle">MMV1582495</text>
<text transform="translate(515.0,185.5) scale(0.94,1)" font-size="29.3" font-weight="bold" text-anchor="middle">MMV1581558</text>
<text transform="translate(359.0,299.3) scale(0.94,1)" font-size="29.3" font-weight="bold" text-anchor="middle">MMV396785</text>
<text transform="translate(462.1,388.0) scale(0.94,1)" font-size="29.3" font-weight="bold" text-anchor="middle">MMV1174026</text>
<text transform="translate(921.0,60.1) scale(0.94,1)" font-size="29.3" font-weight="bold" text-anchor="middle">MMV1580853</text>
<text transform="translate(907.8,275.2) scale(0.94,1)" font-size="29.3" font-weight="bold" text-anchor="middle">MMV1633967</text>
<text transform="translate(1185.9,338.4) scale(0.94,1)" font-size="29.3" font-weight="bold" text-anchor="middle">MMV000043</text>
<text transform="translate(175.5,498.7) scale(0.94,1)" font-size="29.3" font-weight="bold" text-anchor="middle">MMV1634492</text>
<text transform="translate(400.2,593.8) scale(0.94,1)" font-size="29.3" font-weight="bold" text-anchor="middle">MMV1580488</text>
<text transform="translate(1133.2,616.4) scale(0.94,1)" font-size="29.3" font-weight="bold" text-anchor="middle">MMV1578570</text>
<text transform="translate(614.4,641.0) scale(0.94,1)" font-size="29.3" font-weight="bold" text-anchor="middle">MMV687273</text>
<text transform="translate(1003.9,678.6) scale(0.94,1)" font-size="29.3" font-weight="bold" text-anchor="middle">MMV1580843</text>
<text transform="translate(1310.0,740.8) scale(0.94,1)" font-size="29.3" font-weight="bold" text-anchor="middle">MMV1634491</text>
<text transform="translate(669.5,911.5) scale(0.94,1)" font-size="29.3" font-weight="bold" text-anchor="middle">MMV1634399</text>
<text transform="translate(944.4,894.3) scale(0.94,1)" font-size="29.3" font-weight="bold" text-anchor="middle">MMV1006203</text>
<text transform="translate(1289.3,988.2) scale(0.94,1)" font-size="29.3" font-weight="bold" text-anchor="middle">MMV1580483</text>
<text transform="translate(1014.8,1080.9) scale(0.94,1)" font-size="29.3" font-weight="bold" text-anchor="middle">MMV1557856</text>
<text transform="translate(1241.3,1107.1) scale(0.94,1)" font-size="29.3" font-weight="bold" text-anchor="middle">MMV000725</text>
<text transform="translate(202.0,221.3) scale(0.94,1)" font-size="29.3" font-weight="bold" text-anchor="middle" xml:space="preserve">IC<tspan font-size="19.5" dy="6">50</tspan><tspan dy="-6">:  0.321 µM</tspan></text>
<text transform="translate(514.8,219.2) scale(0.94,1)" font-size="29.3" font-weight="bold" text-anchor="middle" xml:space="preserve">IC<tspan font-size="19.5" dy="6">50</tspan><tspan dy="-6">:  0.130 µM</tspan></text>
<text transform="translate(907.5,307.3) scale(0.94,1)" font-size="29.3" font-weight="bold" text-anchor="middle" xml:space="preserve">IC<tspan font-size="19.5" dy="6">50</tspan><tspan dy="-6">:  0.083 µM</tspan></text>
<text transform="translate(175.3,531.5) scale(0.94,1)" font-size="29.3" font-weight="bold" text-anchor="middle" xml:space="preserve">IC<tspan font-size="19.5" dy="6">50</tspan><tspan dy="-6">:  0.232 µM</tspan></text>
<text transform="translate(400.1,626.6) scale(0.94,1)" font-size="29.3" font-weight="bold" text-anchor="middle" xml:space="preserve">IC<tspan font-size="19.5" dy="6">50</tspan><tspan dy="-6">:  0.077 µM</tspan></text>
<text transform="translate(613.9,675.0) scale(0.94,1)" font-size="29.3" font-weight="bold" text-anchor="middle" xml:space="preserve">IC<tspan font-size="19.5" dy="6">50</tspan><tspan dy="-6">:  0.105 µM</tspan></text>
<text transform="translate(1003.2,711.8) scale(0.94,1)" font-size="29.3" font-weight="bold" text-anchor="middle" xml:space="preserve">IC<tspan font-size="19.5" dy="6">50</tspan><tspan dy="-6">:  0.108 µM</tspan></text>
<text transform="translate(1310.2,774.0) scale(0.94,1)" font-size="29.3" font-weight="bold" text-anchor="middle" xml:space="preserve">IC<tspan font-size="19.5" dy="6">50</tspan><tspan dy="-6">:  0.208 µM</tspan></text>
<text transform="translate(669.9,944.7) scale(0.94,1)" font-size="29.3" font-weight="bold" text-anchor="middle" xml:space="preserve">IC<tspan font-size="19.5" dy="6">50</tspan><tspan dy="-6">:  0.281 µM</tspan></text>
<text transform="translate(944.4,924.7) scale(0.94,1)" font-size="29.3" font-weight="bold" text-anchor="middle" xml:space="preserve">IC<tspan font-size="19.5" dy="6">50</tspan><tspan dy="-6">:  0.267 µM</tspan></text>
<g class="chem" transform="translate(70,68) scale(0.13831)" fill="none" stroke="#000" stroke-width="14.46" stroke-linejoin="round" stroke-linecap="round"><path d="M45,530 L120,400 L265,400 L335,525 L265,660 L120,660 Z"/><path d="M140.3,426.0 L244.7,426.0"/><path d="M302.1,531.9 L251.7,629.1"/><path d="M132.0,628.8 L78.0,535.2"/><path d="M265,400 L300,355"/><path d="M490,338 L500,350"/><path d="M504,352 L491,432"/><path d="M476,368 L464,430"/><path d="M430,512 L335,525"/><path d="M500,350 L625,285 L755,350 L880,285"/><path d="M631.6,317.4 L725.2,364.2"/><path d="M880,285 L880,130 L1010,55 L1140,130 L1140,285 L1010,355 Z"/><path d="M911.2,142.0 L1004.8,88.0"/><path d="M1114.0,151.7 L1114.0,263.3"/><path d="M1004.1,322.3 L910.5,271.9"/><path d="M1140,130 L1218,105"/><path d="M1140,285 L1218,305"/><path d="M1325,150 L1365,205 L1325,260"/><text transform="translate(410,338.6) scale(0.92,1)" font-size="130.1" text-anchor="middle" stroke="#000" stroke-width="4.70">NH</text><text transform="translate(485,545.6) scale(0.92,1)" font-size="130.1" text-anchor="middle" stroke="#000" stroke-width="4.70">N</text><text transform="translate(1277,128.6) scale(0.92,1)" font-size="130.1" text-anchor="middle" stroke="#000" stroke-width="4.70">O</text><text transform="translate(1277,363.6) scale(0.92,1)" font-size="130.1" text-anchor="middle" stroke="#000" stroke-width="4.70">O</text></g>
<g class="chem" transform="translate(495,0) scale(0.08990)" fill="none" stroke="#000" stroke-width="22.25" stroke-linejoin="round" stroke-linecap="round"><path d="M828,15 L1015,120 L1015,330 L828,435 L645,330 L645,120 Z"/><path d="M834.6,64.6 L969.2,140.2"/><path d="M969.2,309.8 L834.6,385.4"/><path d="M685.0,300.6 L685.0,149.4"/><path d="M645,330 L465,435"/><path d="M1015,330 L1195,435"/><path d="M828,435 L828,640"/><path d="M828,640 L735,700"/><path d="M828,640 L925,700"/><path d="M840,620 L935,676"/><path d="M650,845 L650,955"/><path d="M748,1008 L650,955 L465,1050 L465,1270 L650,1375 L828,1270 L828,1160"/><path d="M662,988 L745,1036"/><path d="M782.7,1250.2 L654.6,1325.8"/><path d="M505.0,1239.2 L505.0,1080.8"/><path d="M465,1050 L285,950 L100,1050 L100,1270 L285,1375 L465,1270"/><path d="M278.1,999.2 L144.9,1071.2"/><path d="M145.7,1249.9 L278.9,1325.5"/><path d="M828,1270 L1010,1375"/><path d="M1010,1490 L1010,1375 L1190,1270 L1375,1375 L1375,1585 L1190,1690 L1100,1640"/><path d="M1050.0,1385.5 L1050.0,1574.5"/><path d="M1196.1,1319.5 L1329.3,1395.1"/><path d="M1329.3,1564.9 L1196.1,1640.5"/><text transform="translate(582,815.6) scale(0.92,1)" font-size="172.4" text-anchor="middle" stroke="#000" stroke-width="7.23">HN</text><text transform="translate(1015,815.6) scale(0.92,1)" font-size="172.4" text-anchor="middle" stroke="#000" stroke-width="7.23">O</text><text transform="translate(832,1125.6) scale(0.92,1)" font-size="172.4" text-anchor="middle" stroke="#000" stroke-width="7.23">N</text><text transform="translate(1010,1645.6) scale(0.92,1)" font-size="172.4" text-anchor="middle" stroke="#000" stroke-width="7.23">N</text></g>
<g class="chem" transform="translate(815,110) scale(0.16943)" fill="none" stroke="#000" stroke-width="11.80" stroke-linejoin="round" stroke-linecap="round"><path d="M772,52 L862,105 L862,210 L772,262 L680,210 L680,105 Z"/><path d="M703.5,116.0 L769.7,77.8"/><path d="M840.8,119.7 L840.8,195.3"/><path d="M769.6,236.2 L703.3,198.8"/><path d="M500,210 L590,262 L590,365 L500,418 L410,365 L410,262 Z"/><path d="M431.2,276.4 L431.2,350.6"/><path d="M502.0,235.7 L566.8,273.1"/><path d="M566.6,354.1 L501.8,392.3"/><path d="M772,262 L772,365"/><path d="M590,365 L680,418"/><path d="M820,392 L772,365 L680,418 L680,475"/><path d="M769.7,390.8 L703.5,429.0"/><path d="M860,455 L860,525 L772,578 L725,552"/><path d="M845,460 L845,515"/><path d="M762.6,547.4 L721.6,522.4"/><path d="M860,525 L912,555"/><path d="M950,625 L950,685 L860,738 L772,685 L772,578"/><path d="M935,628 L935,680"/><path d="M858.6,712.4 L795.3,674.2"/><path d="M772,685 L765,700"/><path d="M640,712 L590,685 L500,738 L410,685 L320,738 L265,708"/><path d="M590,685 L590,578"/><path d="M410,685 L410,578"/><path d="M230,630 L230,578 L140,525"/><path d="M185,705 L135,738 L45,685"/><path d="M950,685 L1000,712"/><path d="M1125,700 L1135,685 L1185,712"/><path d="M1128,630 L1128,688"/><path d="M1146,630 L1146,688"/><path d="M1275,712 L1320,685 L1410,738"/><text transform="translate(860,453.0) scale(0.92,1)" font-size="91.5" text-anchor="middle" stroke="#000" stroke-width="3.84">N</text><text transform="translate(680,558.0) scale(0.92,1)" font-size="91.5" text-anchor="middle" stroke="#000" stroke-width="3.84">N</text><text transform="translate(952,608.0) scale(0.92,1)" font-size="91.5" text-anchor="middle" stroke="#000" stroke-width="3.84">N</text><text transform="translate(712,768.0) scale(0.92,1)" font-size="91.5" text-anchor="middle" stroke="#000" stroke-width="3.84">NH</text><text transform="translate(1077,768.0) scale(0.92,1)" font-size="91.5" text-anchor="middle" stroke="#000" stroke-width="3.84">NH</text><text transform="translate(1137,608.0) scale(0.92,1)" font-size="91.5" text-anchor="middle" stroke="#000" stroke-width="3.84">O</text><text transform="translate(1228,768.0) scale(0.92,1)" font-size="91.5" text-anchor="middle" stroke="#000" stroke-width="3.84">O</text><text transform="translate(228,715.0) scale(0.92,1)" font-size="91.5" text-anchor="middle" stroke="#000" stroke-width="3.84">N</text></g>
<g class="chem" transform="translate(85,345) scale(0.11756)" fill="none" stroke="#000" stroke-width="18.71" stroke-linejoin="round" stroke-linecap="round"><path d="M185,182 L360,235 L400,420 L265,548 L80,490 L45,300 Z"/><path d="M185.1,221.9 L84.3,306.9"/><path d="M335.7,267.4 L364.5,400.6"/><path d="M248.3,510.7 L115.1,468.9"/><path d="M360,235 L478,90 L658,90 L780,235"/><path d="M780,235 L965,185 L1100,300 L1060,492 L880,548 L740,430 Z"/><path d="M813.9,257.6 L947.1,221.6"/><path d="M1064.4,320.6 L1035.6,458.9"/><path d="M880.1,508.1 L779.3,423.1"/><path d="M1100,300 L1200,275"/><path d="M880,548 L860,650"/><path d="M400,420 L575,500 L740,430"/><path d="M575,500 L575,600"/><path d="M500,740 L420,800 L475,975 L595,975"/><path d="M456.9,815.3 L496.5,941.3"/><path d="M650,740 L725,800 L688,890"/><path d="M690,815 L656,888"/><text transform="translate(578,744.3) scale(0.92,1)" font-size="144.6" text-anchor="middle" stroke="#000" stroke-width="5.53">N</text><text transform="translate(665,1026.3) scale(0.92,1)" font-size="144.6" text-anchor="middle" stroke="#000" stroke-width="5.53">N</text><text transform="translate(1298,309.3) scale(0.92,1)" font-size="144.6" text-anchor="middle" stroke="#000" stroke-width="5.53">Cl</text><text transform="translate(783,784.3) scale(0.92,1)" font-size="144.6" text-anchor="middle" stroke="#000" stroke-width="5.53">Cl</text></g>
<g class="chem" transform="translate(138,552) scale(0.18464)" fill="none" stroke="#000" stroke-width="10.83" stroke-linejoin="round" stroke-linecap="round"><path d="M95,205 L40,235 L40,350 L138,405 L235,350 L235,235 L182,205"/><path d="M59.5,251.1 L59.5,333.9"/><path d="M142.0,380.3 L211.8,340.7"/><path d="M188,229 L222,249"/><path d="M235,235 L335,180 L432,235 L432,350 L335,405 L235,350"/><path d="M339.0,204.7 L408.8,244.3"/><path d="M408.8,340.7 L339.0,380.3"/><path d="M335,180 L335,112"/><path d="M432,350 L530,405"/><path d="M530,405 L628,350 L725,405 L725,518 L628,573 L530,518 Z"/><path d="M553.3,414.3 L623.8,374.7"/><path d="M705.5,420.8 L705.5,502.2"/><path d="M623.8,548.3 L553.3,508.7"/><path d="M725,518 L823,573 L878,545"/><path d="M815,580 L815,652"/><path d="M832,580 L832,652"/><path d="M1015,575 L1120,518 L1218,573 L1275,545"/><path d="M1315,470 L1315,405"/><path d="M1360,545 L1412,573"/><text transform="translate(138,214.7) scale(0.92,1)" font-size="102.9" text-anchor="middle" stroke="#000" stroke-width="3.52">N</text><text transform="translate(367,99.7) scale(0.92,1)" font-size="102.9" text-anchor="middle" stroke="#000" stroke-width="3.52">OH</text><text transform="translate(825,720.7) scale(0.92,1)" font-size="102.9" text-anchor="middle" stroke="#000" stroke-width="3.52">O</text><text transform="translate(955,552.7) scale(0.92,1)" font-size="102.9" text-anchor="middle" stroke="#000" stroke-width="3.52">NH</text><text transform="translate(1315,552.7) scale(0.92,1)" font-size="102.9" text-anchor="middle" stroke="#000" stroke-width="3.52">N</text></g>
<g class="chem" transform="translate(350,695) scale(0.17637)" fill="none" stroke="#000" stroke-width="11.34" stroke-linejoin="round" stroke-linecap="round"><path d="M22,88 L115,140 L208,88 L300,140 L395,88 L487,140 L580,88 L675,140 L718,115"/><path d="M115,140 L115,245"/><path d="M487,140 L487,245"/><path d="M138.0,150.5 L204.9,113.1"/><path d="M510.0,150.5 L576.9,113.1"/><path d="M855,140 L955,88 L1000,115"/><path d="M1135,88 L1235,115 L1340,88 L1395,180 L1390,290 L1295,318 L1190,290 L1190,180 L1135,88"/><path d="M1235,115 L1235,220 L1295,318"/><path d="M1395,180 L1295,150 L1250,165"/><path d="M1190,180 L1218,177"/><text transform="translate(795,117.8) scale(0.92,1)" font-size="94.7" text-anchor="middle" stroke="#000" stroke-width="3.69">NH</text><text transform="translate(1075,172.8) scale(0.92,1)" font-size="94.7" text-anchor="middle" stroke="#000" stroke-width="3.69">NH</text></g>
<g class="chem" transform="translate(985,710) scale(0.15214)" fill="none" stroke="#000" stroke-width="13.15" stroke-linejoin="round" stroke-linecap="round"><path d="M518,192 L650,210 L690,328 L622,432 L495,418 L448,295 Z"/><path d="M533.3,218.0 L628.3,230.9"/><path d="M660.7,329.6 L611.7,404.5"/><path d="M510.5,392.3 L476.7,303.8"/><path d="M518,192 L490,135"/><path d="M622,432 L668,545"/><path d="M635,605 L668,545 L790,572 L800,700 L742,728"/><path d="M680.0,571.9 L767.8,591.3"/><path d="M784,686 L733,708"/><path d="M555,662 L488,675"/><path d="M488,675 L410,568 L290,582 L240,695 L318,800 L440,790 Z"/><path d="M458.0,674.0 L401.8,596.9"/><path d="M304.6,607.4 L268.6,688.8"/><path d="M333.1,775.0 L421.0,767.8"/><path d="M240,695 L148,710"/><path d="M800,700 L905,765 L968,735"/><path d="M1015,640 L1015,575 L1125,515"/><path d="M1222,630 L1222,705 L1118,765 L1062,738"/><path d="M1248,522 L1285,462"/><path d="M1252,572 L1342,572"/><text transform="translate(432,113.3) scale(0.92,1)" font-size="118.3" text-anchor="middle" stroke="#000" stroke-width="4.27">Cl</text><text transform="translate(605,698.3) scale(0.92,1)" font-size="118.3" text-anchor="middle" stroke="#000" stroke-width="4.27">N</text><text transform="translate(690,793.3) scale(0.92,1)" font-size="118.3" text-anchor="middle" stroke="#000" stroke-width="4.27">N</text><text transform="translate(86,748.3) scale(0.92,1)" font-size="118.3" text-anchor="middle" stroke="#000" stroke-width="4.27">Cl</text><text transform="translate(1013,738.3) scale(0.92,1)" font-size="118.3" text-anchor="middle" stroke="#000" stroke-width="4.27">N</text><text transform="translate(1190,608.3) scale(0.92,1)" font-size="118.3" text-anchor="middle" stroke="#000" stroke-width="4.27">Si</text></g>
<g class="chem" transform="translate(1180,785) scale(0.17979)" fill="none" stroke="#000" stroke-width="13.07" stroke-linejoin="round" stroke-linecap="round"><path d="M372,232 L493,295 L493,435 L372,505 L255,435 L255,295 Z"/><path d="M379.7,258.6 L466.8,303.9"/><path d="M466.0,427.5 L378.9,477.9"/><path d="M275.0,415.4 L275.0,314.6"/><path d="M372,232 L372,155"/><path d="M255,435 L160,490"/><path d="M493,295 L610,232 L732,295 L850,232"/><path d="M617.9,258.6 L705.7,304.0"/><path d="M732,295 L732,375"/><path d="M840,150 L840,230"/><path d="M858,150 L858,232"/><path d="M850,232 L968,295"/><path d="M968,295 L1090,228 L1210,295 L1210,435 L1090,505 L968,435 Z"/><path d="M994.7,303.2 L1082.6,254.9"/><path d="M1190.0,314.6 L1190.0,415.4"/><path d="M1082.9,477.8 L995.0,427.4"/><path d="M1210,435 L1275,470"/><path d="M680,475 L620,510 L660,645 L745,645"/><path d="M644.8,523.2 L673.6,620.4"/><path d="M780,470 L840,515 L815,590"/><path d="M812,528 L790,590"/><text transform="translate(388,132.8) scale(0.92,1)" font-size="116.8" text-anchor="middle" stroke="#000" stroke-width="3.62">Cl</text><text transform="translate(90,542.8) scale(0.92,1)" font-size="116.8" text-anchor="middle" stroke="#000" stroke-width="3.62">Cl</text><text transform="translate(850,132.8) scale(0.92,1)" font-size="116.8" text-anchor="middle" stroke="#000" stroke-width="3.62">O</text><text transform="translate(728,472.8) scale(0.92,1)" font-size="116.8" text-anchor="middle" stroke="#000" stroke-width="3.62">N</text><text transform="translate(798,687.8) scale(0.92,1)" font-size="116.8" text-anchor="middle" stroke="#000" stroke-width="3.62">N</text><text transform="translate(1342,542.8) scale(0.92,1)" font-size="116.8" text-anchor="middle" stroke="#000" stroke-width="3.62">Cl</text></g>
<g class="chem" transform="translate(565,945) scale(0.12102)" fill="none" stroke="#000" stroke-width="17.35" stroke-linejoin="round" stroke-linecap="round"><path d="M658,65 L775,185 L735,350 L575,385 L455,265 L495,100 Z"/><path d="M653.1,102.6 L737.3,189.0"/><path d="M706.2,325.8 L591.0,351.0"/><path d="M489.5,248.9 L518.3,130.1"/><path d="M735,350 L855,462 L1020,430 L1055,470"/><path d="M1190,540 L1300,535 L1360,685 L1230,785"/><path d="M1105,625 L1095,712 L1230,785 L1230,960 L1155,1005"/><path d="M1200.3,809.5 L1200.3,935.5"/><path d="M1230,960 L1375,1040"/><path d="M1020,1002 L945,960 L945,785 L1095,712"/><path d="M979.0,801.5 L1087.0,749.0"/><path d="M987.8,950.2 L1071.8,998.2"/><path d="M945,785 L800,705 L660,785 L660,960 L800,1040 L945,960"/><path d="M795.2,742.0 L694.4,799.6"/><path d="M694.4,945.4 L795.2,1003.0"/><path d="M660,785 L585,750"/><path d="M440,750 L370,790"/><path d="M370,790 L230,710 L85,790 L85,960 L230,1040 L370,960 Z"/><path d="M224.1,747.2 L119.7,804.8"/><path d="M340.3,813.8 L340.3,936.2"/><path d="M119.7,945.2 L224.1,1002.8"/><text transform="translate(1125,594.1) scale(0.92,1)" font-size="148.7" text-anchor="middle" stroke="#000" stroke-width="5.37">N</text><text transform="translate(1090,1089.1) scale(0.92,1)" font-size="148.7" text-anchor="middle" stroke="#000" stroke-width="5.37">N</text><text transform="translate(512,754.1) scale(0.92,1)" font-size="148.7" text-anchor="middle" stroke="#000" stroke-width="5.37">O</text></g>
<g class="chem" transform="translate(865,935) scale(0.11410)" fill="none" stroke="#000" stroke-width="18.40" stroke-linejoin="round" stroke-linecap="round"><path d="M285,240 L455,335 L455,545 L285,645 L108,545 L108,335 Z"/><path d="M275.1,281.1 L147.7,349.5"/><path d="M423.4,364.4 L423.4,515.6"/><path d="M275.7,603.5 L148.3,531.5"/><path d="M455,335 L555,285"/><path d="M700,285 L815,345 L815,545 L635,645 L455,545"/><path d="M783.4,373.0 L783.4,517.0"/><path d="M615,650 L615,762"/><path d="M655,650 L655,762"/><path d="M815,345 L985,245"/><path d="M985,245 L985,35 L1160,-60 L1340,35 L1340,245 L1160,345 Z"/><path d="M1024.6,49.4 L1150.6,-19.0"/><path d="M1308.4,64.4 L1308.4,215.6"/><path d="M1151.2,303.6 L1025.2,231.6"/><text transform="translate(637,299.4) scale(0.92,1)" font-size="175.3" text-anchor="middle" stroke="#000" stroke-width="5.70">S</text><text transform="translate(533,126.4) scale(0.92,1)" font-size="175.3" text-anchor="middle" stroke="#000" stroke-width="5.70">O</text><text transform="translate(738,126.4) scale(0.92,1)" font-size="175.3" text-anchor="middle" stroke="#000" stroke-width="5.70">O</text><text transform="translate(633,909.4) scale(0.92,1)" font-size="175.3" text-anchor="middle" stroke="#000" stroke-width="5.70">O</text></g>
</svg></body></html>
